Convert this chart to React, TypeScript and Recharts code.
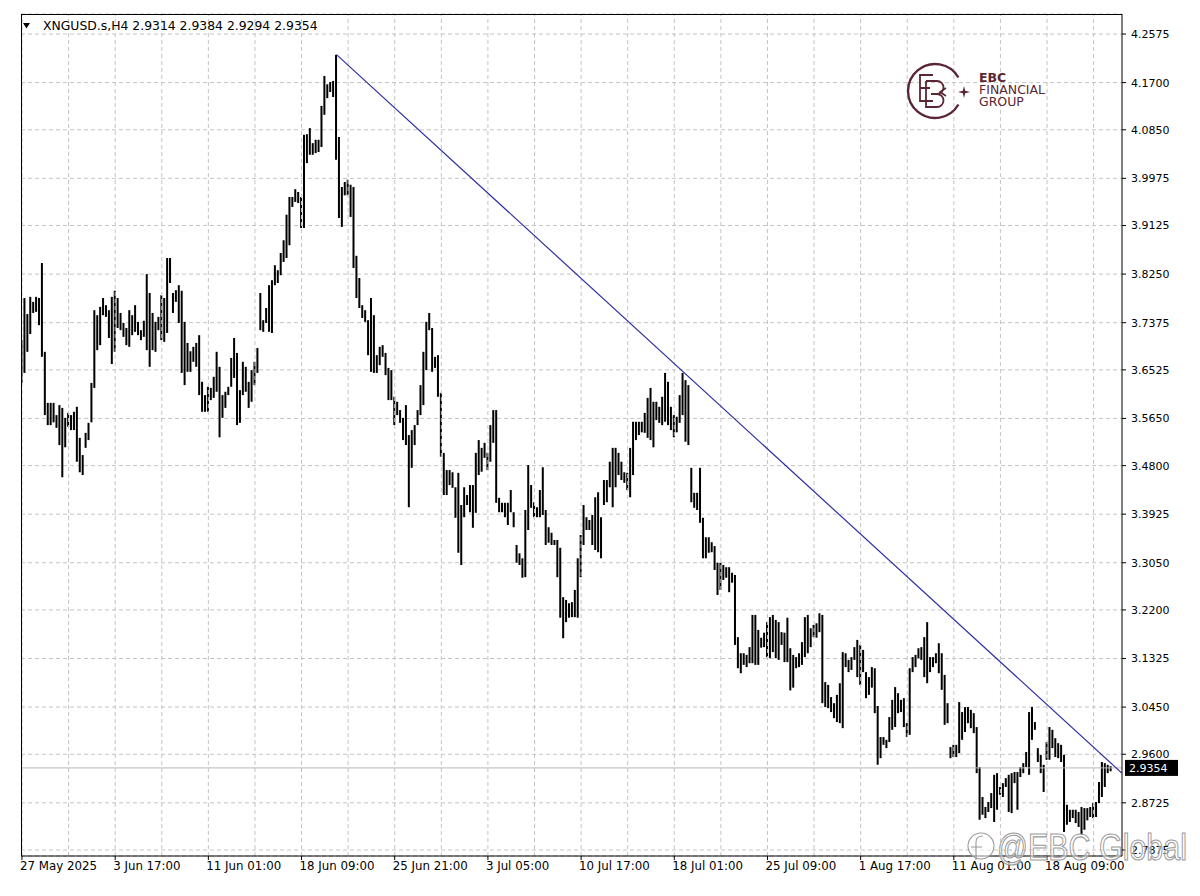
import React from 'react';
import { Bar, CartesianGrid, ComposedChart, ReferenceLine, XAxis, YAxis } from 'recharts';

// XNGUSD.s H4 bars (high / low per bar)
const highs = [
	3.706, 3.782, 3.753, 3.784, 3.775, 3.784, 3.782, 3.845, 3.685, 3.593,
	3.593, 3.593, 3.571, 3.589, 3.584, 3.566, 3.575, 3.571, 3.577, 3.586,
	3.530, 3.499, 3.539, 3.557, 3.629, 3.760, 3.751, 3.766, 3.782, 3.769,
	3.760, 3.784, 3.795, 3.782, 3.755, 3.737, 3.728, 3.760, 3.751, 3.769,
	3.739, 3.724, 3.741, 3.825, 3.791, 3.755, 3.739, 3.748, 3.787, 3.782,
	3.854, 3.854, 3.791, 3.796, 3.805, 3.795, 3.739, 3.701, 3.686, 3.694,
	3.701, 3.715, 3.631, 3.607, 3.622, 3.620, 3.640, 3.685, 3.658, 3.607,
	3.613, 3.622, 3.674, 3.710, 3.683, 3.616, 3.667, 3.658, 3.631, 3.652,
	3.667, 3.692, 3.791, 3.742, 3.764, 3.805, 3.814, 3.841, 3.832, 3.863,
	3.886, 3.932, 3.964, 3.964, 3.978, 3.973, 3.964, 4.076, 4.077, 4.088,
	4.061, 4.067, 4.067, 4.128, 4.182, 4.167, 4.171, 4.173, 4.220, 4.072,
	3.982, 3.991, 3.995, 3.986, 3.982, 3.858, 3.818, 3.769, 3.760, 3.742,
	3.782, 3.751, 3.679, 3.694, 3.697, 3.683, 3.656, 3.652, 3.604, 3.595,
	3.580, 3.566, 3.589, 3.535, 3.544, 3.553, 3.580, 3.625, 3.685, 3.739,
	3.755, 3.728, 3.676, 3.679, 3.611, 3.503, 3.472, 3.472, 3.468, 3.441,
	3.467, 3.409, 3.441, 3.427, 3.445, 3.445, 3.503, 3.526, 3.512, 3.521,
	3.503, 3.553, 3.580, 3.580, 3.422, 3.413, 3.413, 3.413, 3.436, 3.396,
	3.337, 3.322, 3.313, 3.400, 3.481, 3.445, 3.414, 3.405, 3.436, 3.477,
	3.400, 3.369, 3.359, 3.346, 3.346, 3.332, 3.243, 3.238, 3.232, 3.234,
	3.256, 3.313, 3.355, 3.409, 3.387, 3.382, 3.391, 3.423, 3.432, 3.387,
	3.454, 3.454, 3.487, 3.512, 3.512, 3.503, 3.487, 3.468, 3.467, 3.512,
	3.559, 3.559, 3.559, 3.559, 3.575, 3.602, 3.620, 3.595, 3.595, 3.586,
	3.604, 3.647, 3.631, 3.586, 3.571, 3.568, 3.607, 3.647, 3.634, 3.625,
	3.476, 3.431, 3.431, 3.476, 3.386, 3.351, 3.351, 3.342, 3.335, 3.305,
	3.305, 3.301, 3.297, 3.297, 3.287, 3.283, 3.171, 3.142, 3.142, 3.139,
	3.153, 3.211, 3.211, 3.184, 3.170, 3.179, 3.198, 3.207, 3.211, 3.202,
	3.198, 3.180, 3.179, 3.206, 3.151, 3.139, 3.135, 3.142, 3.162, 3.207,
	3.211, 3.187, 3.193, 3.196, 3.214, 3.211, 3.090, 3.085, 3.063, 3.052,
	3.067, 3.088, 3.144, 3.142, 3.130, 3.135, 3.153, 3.166, 3.157, 3.148,
	3.108, 3.099, 3.117, 3.115, 3.047, 2.991, 2.991, 2.986, 3.027, 3.058,
	3.081, 3.070, 3.058, 3.061, 3.016, 3.115, 3.135, 3.139, 3.151, 3.153,
	3.171, 3.198, 3.135, 3.135, 3.142, 3.160, 3.142, 3.103, 3.052, 2.973,
	2.977, 2.977, 3.054, 3.036, 3.045, 3.045, 3.040, 3.034, 3.009, 2.937,
	2.883, 2.865, 2.874, 2.890, 2.923, 2.926, 2.901, 2.908, 2.917, 2.923,
	2.926, 2.928, 2.928, 2.937, 2.944, 2.964, 3.036, 3.045, 3.018, 2.971,
	2.959, 2.941, 2.982, 3.009, 3.004, 2.989, 2.980, 2.977, 2.959, 2.869,
	2.860, 2.860, 2.860, 2.856, 2.865, 2.863, 2.863, 2.865, 2.872, 2.874,
	2.910, 2.946, 2.944, 2.941, 2.9384
];

const lows = [
	3.629, 3.647, 3.685, 3.717, 3.755, 3.757, 3.733, 3.676, 3.571, 3.553,
	3.553, 3.558, 3.548, 3.517, 3.459, 3.513, 3.550, 3.544, 3.544, 3.487,
	3.468, 3.463, 3.512, 3.526, 3.558, 3.620, 3.688, 3.697, 3.751, 3.748,
	3.710, 3.663, 3.685, 3.728, 3.724, 3.712, 3.697, 3.694, 3.715, 3.721,
	3.715, 3.706, 3.712, 3.688, 3.658, 3.688, 3.685, 3.724, 3.706, 3.703,
	3.719, 3.809, 3.755, 3.775, 3.737, 3.647, 3.625, 3.649, 3.649, 3.667,
	3.658, 3.607, 3.577, 3.577, 3.577, 3.598, 3.602, 3.613, 3.531, 3.566,
	3.584, 3.607, 3.622, 3.638, 3.553, 3.557, 3.607, 3.613, 3.584, 3.595,
	3.625, 3.647, 3.724, 3.721, 3.737, 3.721, 3.719, 3.805, 3.809, 3.823,
	3.847, 3.854, 3.877, 3.946, 3.955, 3.953, 3.908, 3.908, 4.025, 4.040,
	4.040, 4.043, 4.045, 4.054, 4.112, 4.142, 4.153, 4.144, 4.031, 3.926,
	3.910, 3.967, 3.967, 3.928, 3.836, 3.782, 3.764, 3.746, 3.739, 3.679,
	3.649, 3.647, 3.647, 3.661, 3.676, 3.643, 3.598, 3.598, 3.553, 3.571,
	3.557, 3.526, 3.517, 3.405, 3.476, 3.517, 3.553, 3.571, 3.589, 3.652,
	3.724, 3.649, 3.656, 3.604, 3.496, 3.427, 3.427, 3.445, 3.440, 3.386,
	3.323, 3.301, 3.387, 3.409, 3.396, 3.368, 3.395, 3.463, 3.469, 3.494,
	3.472, 3.487, 3.521, 3.413, 3.396, 3.396, 3.387, 3.373, 3.396, 3.369,
	3.305, 3.301, 3.278, 3.279, 3.364, 3.404, 3.387, 3.387, 3.387, 3.391,
	3.337, 3.341, 3.337, 3.337, 3.279, 3.206, 3.169, 3.198, 3.206, 3.207,
	3.207, 3.206, 3.279, 3.337, 3.364, 3.364, 3.337, 3.328, 3.324, 3.313,
	3.409, 3.414, 3.441, 3.405, 3.441, 3.463, 3.454, 3.449, 3.436, 3.423,
	3.463, 3.526, 3.535, 3.540, 3.539, 3.530, 3.526, 3.513, 3.562, 3.557,
	3.553, 3.559, 3.553, 3.544, 3.531, 3.540, 3.557, 3.571, 3.523, 3.517,
	3.414, 3.404, 3.400, 3.377, 3.313, 3.313, 3.323, 3.324, 3.292, 3.247,
	3.256, 3.274, 3.278, 3.252, 3.269, 3.157, 3.115, 3.106, 3.121, 3.117,
	3.124, 3.124, 3.121, 3.121, 3.152, 3.153, 3.135, 3.133, 3.144, 3.133,
	3.130, 3.157, 3.126, 3.126, 3.075, 3.080, 3.115, 3.117, 3.121, 3.135,
	3.142, 3.153, 3.171, 3.170, 3.180, 3.052, 3.045, 3.043, 3.036, 3.025,
	3.018, 3.016, 3.007, 3.117, 3.108, 3.112, 3.130, 3.099, 3.085, 3.108,
	3.061, 3.067, 3.080, 3.034, 2.941, 2.953, 2.977, 2.971, 2.982, 3.004,
	3.009, 3.034, 3.036, 3.009, 2.991, 2.995, 3.108, 3.117, 3.133, 3.130,
	3.099, 3.088, 3.108, 3.117, 3.124, 3.106, 3.076, 3.013, 3.016, 2.953,
	2.955, 2.955, 2.962, 2.986, 3.000, 3.016, 3.007, 2.998, 2.926, 2.842,
	2.851, 2.845, 2.856, 2.863, 2.838, 2.860, 2.887, 2.883, 2.901, 2.856,
	2.854, 2.908, 2.860, 2.919, 2.926, 2.937, 2.923, 2.986, 3.004, 2.946,
	2.926, 2.892, 2.950, 2.950, 2.971, 2.955, 2.953, 2.946, 2.820, 2.833,
	2.838, 2.845, 2.836, 2.829, 2.815, 2.824, 2.841, 2.847, 2.845, 2.847,
	2.872, 2.883, 2.901, 2.926, 2.9294
];

const xTickIdx = [0, 32, 64, 96, 128, 160, 192, 224, 256, 288, 320, 352];
const xTickLabels = [
	'27 May 2025', '3 Jun 17:00', '11 Jun 01:00', '18 Jun 09:00', '25 Jun 21:00', '3 Jul 05:00',
	'10 Jul 17:00', '18 Jul 01:00', '25 Jul 09:00', '1 Aug 17:00', '11 Aug 01:00', '18 Aug 09:00'
];
const xGridIdx = [0, 16, 32, 48, 64, 80, 96, 112, 128, 144, 160, 176, 192, 208, 224, 240, 256, 272, 288, 304, 320, 336, 352, 368];
const yTicks = [
	4.2575, 4.17, 4.085, 3.9975, 3.9125, 3.825, 3.7375, 3.6525, 3.565,
	3.48, 3.3925, 3.305, 3.22, 3.1325, 3.045, 2.96, 2.8725, 2.7875
];

// trendline drawn from the 18 Jun peak through the lower highs
const trendLine = [
	{ x: 108, y: 4.2205 },
	{ x: 377.7, y: 2.926 }
];
const lastPrice = 2.9354;
const headerText = 'XNGUSD.s,H4  2.9314 2.9384 2.9294 2.9354';

const rows = highs.map((h, i) => ({ i, range: [lows[i], h] }));

const FONT = 'DejaVu Sans';
const MAROON = '#5a2634';

const HiLoBar = (p: any) => {
	const { x, y, width, height } = p;
	if (x == null || y == null) return null;
	const top = Math.min(y, y + height);
	return (
		<rect
			x={x + width / 2 - 1}
			y={top}
			width={2}
			height={Math.max(Math.abs(height), 1)}
			fill='#000'
		/>
	);
};

const XTick = (p: any) => {
	const { x, y, payload } = p;
	const k = xTickIdx.indexOf(payload.value);
	return (
		<text
			x={x - 2}
			y={y}
			dy={9}
			textAnchor='start'
			fontSize={11.8}
			fontFamily={FONT}
			fill='#000'
		>
			{k >= 0 ? xTickLabels[k] : ''}
		</text>
	);
};

const PriceTag = (p: any) => {
	const vb = p.viewBox || {};
	const x = (vb.x || 0) + (vb.width || 0) + 3;
	const y = vb.y || 0;
	return (
		<g>
			<rect x={x} y={y - 8} width={53} height={16} fill='#000' />
			<text x={x + 4} y={y + 4} fontSize={11} fontFamily={FONT} fill='#fff'>
				{lastPrice.toFixed(4)}
			</text>
		</g>
	);
};

const Overlay = () => (
	<svg
		width={1200}
		height={896}
		style={{ position: 'absolute', left: 0, top: 0, pointerEvents: 'none' }}
	>
		{/* frame: left and top edges */}
		<line x1={21.5} y1={14} x2={21.5} y2={856} stroke='#000' />
		<line x1={21} y1={14.5} x2={1122} y2={14.5} stroke='#000' />

		{/* header */}
		<polygon points='23,23 30,23 26.5,28.5' fill='#000' />
		<text x={43} y={30} fontSize={12.4} fontFamily={FONT} fill='#000'>
			{headerText}
		</text>

		{/* EBC logo */}
		<g stroke={MAROON} fill='none' strokeWidth={2.4}>
			<path d='M 958.4 77.5 A 27 27 0 1 0 958.4 104.5' />
			<path d='M 933 75 H 920 V 101 H 933 M 920 88 H 930' strokeWidth={1.8} />
			<path d='M 926 81 V 107 H 937 A 6.5 6.5 0 0 0 937 94 H 931 M 937 94 A 6.5 6.5 0 0 0 937 81 H 926' strokeWidth={1.8} />
			<path d='M 946 88 L 940 92 L 946 96' strokeWidth={1.6} />
		</g>
		<path
			d='M 964 86 L 965.2 90.8 L 970 92 L 965.2 93.2 L 964 98 L 962.8 93.2 L 958 92 L 962.8 90.8 Z'
			fill={MAROON}
		/>
		<text x={979} y={82} fontSize={12.5} fontWeight={700} fontFamily={FONT} fill={MAROON}>
			EBC
		</text>
		<text x={979} y={94} fontSize={12.5} fontFamily={FONT} fill={MAROON}>
			FINANCIAL
		</text>
		<text x={979} y={106} fontSize={12.5} fontFamily={FONT} fill={MAROON}>
			GROUP
		</text>

		{/* watermark */}
		<g stroke='#9a9a9a' strokeWidth={1.1} fill='rgba(255,255,255,0.55)'>
			<circle cx={981} cy={846} r={13} />
			<path d='M 976 860 V 842 Q 976 836 983 836 M 971 847 H 982' fill='none' />
			<text
				x={997}
				y={860}
				fontSize={36}
				fontFamily='Liberation Sans'
				textLength={190}
				lengthAdjust='spacingAndGlyphs'
			>
				@EBC Global
			</text>
		</g>
	</svg>
);

export default function App() {
	return (
		<div style={{ position: 'absolute', left: 0, top: 0, width: 1200, height: 896, background: '#fff' }}>
			<ComposedChart
				width={1200}
				height={896}
				data={rows}
				margin={{ top: 14, right: 0, bottom: 0, left: 21 }}
			>
				<CartesianGrid
					horizontal
					vertical={false}
					stroke='#c4c4c4'
					strokeDasharray='4 3'
				/>
				{xGridIdx.map((g) => (
					<ReferenceLine
						key={g}
						x={g}
						stroke='#c4c4c4'
						strokeDasharray='4 3'
					/>
				))}
				<XAxis
					dataKey='i'
					type='number'
					domain={[-0.34, 377.75]}
					allowDataOverflow
					ticks={xTickIdx}
					interval={0}
					height={40}
					tickSize={4}
					tickMargin={1}
					tick={XTick}
					axisLine={{ stroke: '#000' }}
					tickLine={{ stroke: '#000' }}
				/>
				<YAxis
					orientation='right'
					type='number'
					domain={[2.7767, 4.2936]}
					allowDataOverflow
					ticks={yTicks}
					interval={0}
					width={78}
					tickSize={4}
					tickMargin={5}
					tickFormatter={(v: number) => v.toFixed(4)}
					tick={{ fontSize: 11, fontFamily: FONT, fill: '#000' }}
					axisLine={{ stroke: '#000' }}
					tickLine={{ stroke: '#000' }}
				/>
				<ReferenceLine
					y={lastPrice}
					stroke='#b8b8b8'
					label={PriceTag}
				/>
				<Bar
					dataKey='range'
					barSize={2}
					shape={HiLoBar}
					isAnimationActive={false}
				/>
				<ReferenceLine
					segment={trendLine}
					stroke='#2e2ea0'
					strokeWidth={1.2}
				/>
			</ComposedChart>
			<Overlay />
		</div>
	);
}
